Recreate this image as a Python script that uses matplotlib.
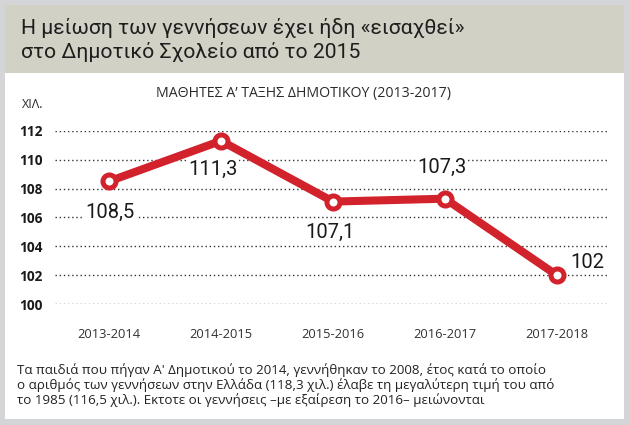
import matplotlib
matplotlib.use("Agg")
import matplotlib.pyplot as plt
from matplotlib.patches import Rectangle

categories = ["2013-2014", "2014-2015", "2015-2016", "2016-2017", "2017-2018"]
values = [108.5, 111.3, 107.1, 107.3, 102.0]
labels = ["108,5", "111,3", "107,1", "107,3", "102"]
yticks = [100, 102, 104, 106, 108, 110, 112]

title = "Η μείωση των γεννήσεων έχει ήδη «εισαχθεί»\nστο Δημοτικό Σχολείο από το 2015"
subtitle = "ΜΑΘΗΤΕΣ Α’ ΤΑΞΗΣ ΔΗΜΟΤΙΚΟΥ (2013-2017)"
unit = "ΧΙΛ."
note_lines = ["Τα παιδιά που πήγαν Α' Δημοτικού το 2014, γεννήθηκαν το 2008, έτος κατά το οποίο",
              "ο αριθμός των γεννήσεων στην Ελλάδα (118,3 χιλ.) έλαβε τη μεγαλύτερη τιμή του από",
              "το 1985 (116,5 χιλ.). Εκτοτε οι γεννήσεις –με εξαίρεση το 2016– μειώνονται"]

W, H = 630, 425
fig = plt.figure(figsize=(W / 100, H / 100), dpi=100)
fig.patch.set_facecolor("#d3d5d7")

def px(x, y):
    return x / W, 1 - y / H

# white panel and header band
fig.patches.append(Rectangle(px(5, 419), 619 / W, 414 / H, transform=fig.transFigure,
                             facecolor="white", edgecolor="none", zorder=-2))
fig.patches.append(Rectangle(px(5, 73), 619 / W, 68 / H, transform=fig.transFigure,
                             facecolor="#d1d1c5", edgecolor="none", zorder=-1))

fig.text(*px(21, 40), title, fontsize=15.2, family="Roboto",
         color="#1e1e1e", va="center", ha="left", linespacing=1.2)

fig.text(*px(304, 93), subtitle, fontsize=10.2, family="Open Sans", color="#2a2a2a",
         ha="center", va="center")
fig.text(*px(43, 105), unit, fontsize=9, family="Open Sans", color="#2a2a2a",
         ha="right", va="center")

for i, line in enumerate(note_lines):
    fig.text(*px(17, 374 + 15 * i), line, fontsize=9.6, family="Open Sans",
             color="#222222", ha="left", va="baseline")

left, right = 55, 607
top, bottom = 130.7, 304.3
ax = fig.add_axes([left / W, 1 - bottom / H, (right - left) / W, (bottom - top) / H])
ax.set_zorder(2)
ax.set_facecolor("none")
x = list(range(len(categories)))
ax.set_xlim(-0.482, 4.446)
ax.set_ylim(100, 112)
ax.set_yticks(yticks)
ax.set_yticklabels([str(v) for v in yticks], fontsize=9.8, fontweight="bold",
                   family="Open Sans", color="#1a1a1a")
ax.set_xticks(x)
ax.set_xticklabels(categories, fontsize=9.3, family="Open Sans", color="#333333")
ax.tick_params(axis="y", length=0, pad=9)
ax.tick_params(axis="x", length=0, pad=17)
for s in ax.spines.values():
    s.set_visible(False)
ax.grid(axis="y", color="#333333", linestyle=(0, (1, 2)), linewidth=1.0)
ax.grid(axis="x", visible=False)

red = "#d2232d"
ax.plot(x, values, color=red, linewidth=5.8, solid_capstyle="round", zorder=3,
        clip_on=False, marker="o", markersize=9.4, markerfacecolor="white",
        markeredgecolor=red, markeredgewidth=3.6)

offsets = [(1, -31), (-8, -29), (-3, -31), (-3, 31), (30, 13)]
for xi, v, lab, (dx, dy) in zip(x, values, labels, offsets):
    ax.annotate(lab, (xi, v), xytext=(dx * 0.72, dy * 0.72), textcoords="offset points",
                ha="center", va="center", fontsize=14.5, family="Roboto",
                color="#1a1a1a", zorder=4,
                bbox=dict(boxstyle="square,pad=0.05", facecolor="white", edgecolor="none"))

fig.savefig("out.png", dpi=100, facecolor=fig.get_facecolor())
